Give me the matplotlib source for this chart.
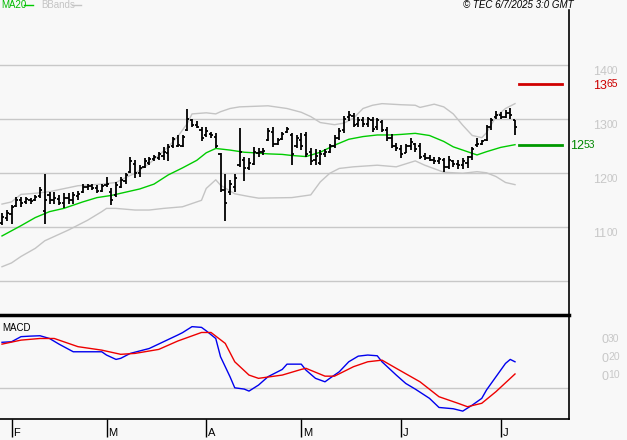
import numpy as np
import pandas as pd
import matplotlib
matplotlib.use('Agg')
import matplotlib.pyplot as plt

plt.rcParams['font.family'] = ['Liberation Sans', 'DejaVu Sans']

# trading days (Euronext holidays removed)
days = pd.bdate_range('2025-01-30', '2025-07-04')
days = days.drop(pd.to_datetime(['2025-04-18', '2025-04-21', '2025-05-01']))

highs = [1126, 1132, 1141, 1157, 1157, 1157, 1154, 1160, 1175, 1199,
         1166, 1166, 1160, 1163, 1163, 1166, 1167, 1181, 1181, 1181,
         1178, 1181, 1194, 1172, 1183, 1194, 1200, 1231, 1225, 1215,
         1228, 1231, 1234, 1239, 1249, 1255, 1268, 1270, 1270, 1319,
         1301, 1296, 1286, 1286, 1277, 1274, 1237, 1198, 1188, 1198,
         1283, 1231, 1228, 1249, 1246, 1246, 1283, 1286, 1266, 1276,
         1286, 1274, 1271, 1274, 1277, 1246, 1245, 1243, 1245, 1255,
         1271, 1283, 1307, 1315, 1311, 1305, 1305, 1305, 1305, 1302,
         1299, 1285, 1272, 1257, 1252, 1255, 1265, 1257, 1257, 1237,
         1233, 1231, 1231, 1228, 1232, 1225, 1225, 1228, 1232, 1249,
         1265, 1262, 1289, 1302, 1315, 1314, 1317, 1320, 1299]
lows = [1105, 1112, 1107, 1138, 1138, 1144, 1143, 1149, 1154, 1107,
        1144, 1144, 1141, 1135, 1144, 1144, 1151, 1163, 1169, 1169,
        1163, 1166, 1175, 1142, 1157, 1172, 1181, 1200, 1192, 1194,
        1209, 1215, 1222, 1225, 1225, 1222, 1246, 1249, 1249, 1278,
        1286, 1283, 1259, 1268, 1265, 1246, 1165, 1112, 1160, 1165,
        1212, 1185, 1206, 1215, 1231, 1234, 1259, 1249, 1252, 1262,
        1274, 1215, 1246, 1243, 1231, 1215, 1215, 1215, 1231, 1237,
        1246, 1262, 1274, 1296, 1286, 1285, 1285, 1285, 1276, 1280,
        1276, 1259, 1246, 1241, 1229, 1237, 1243, 1240, 1226, 1225,
        1222, 1218, 1218, 1202, 1208, 1212, 1208, 1208, 1209, 1225,
        1249, 1252, 1259, 1280, 1301, 1301, 1302, 1301, 1270]
opens = [1108, 1118, 1125, 1140, 1150, 1146, 1150, 1150, 1158, 1130,
         1160, 1150, 1152, 1145, 1155, 1150, 1158, 1165, 1174, 1176,
         1172, 1168, 1178, 1165, 1160, 1175, 1186, 1202, 1218, 1200,
         1212, 1220, 1226, 1228, 1232, 1238, 1250, 1250, 1250, 1280,
         1298, 1290, 1280, 1270, 1272, 1268, 1235, 1170, 1165, 1175,
         1215, 1225, 1210, 1218, 1238, 1240, 1262, 1276, 1255, 1264,
         1276, 1270, 1250, 1262, 1270, 1240, 1225, 1220, 1235, 1240,
         1250, 1265, 1280, 1305, 1306, 1292, 1298, 1292, 1298, 1285,
         1295, 1280, 1265, 1250, 1245, 1238, 1250, 1255, 1250, 1232,
         1228, 1225, 1222, 1225, 1212, 1222, 1218, 1215, 1220, 1230,
         1252, 1255, 1262, 1285, 1305, 1308, 1305, 1312, 1298]
closes = [1120, 1126, 1138, 1150, 1145, 1152, 1148, 1156, 1170, 1150,
          1150, 1155, 1145, 1155, 1150, 1160, 1162, 1175, 1176, 1172,
          1168, 1176, 1180, 1150, 1178, 1188, 1196, 1222, 1200, 1210,
          1222, 1226, 1230, 1235, 1240, 1248, 1264, 1252, 1268, 1300,
          1290, 1285, 1265, 1278, 1270, 1250, 1170, 1145, 1180, 1192,
          1240, 1210, 1220, 1240, 1240, 1242, 1278, 1255, 1262, 1272,
          1282, 1235, 1265, 1250, 1235, 1222, 1232, 1235, 1240, 1250,
          1265, 1278, 1300, 1308, 1290, 1298, 1292, 1300, 1282, 1298,
          1280, 1265, 1250, 1246, 1235, 1250, 1258, 1245, 1230, 1228,
          1225, 1222, 1226, 1212, 1225, 1218, 1215, 1222, 1230, 1245,
          1255, 1260, 1285, 1298, 1308, 1305, 1312, 1308, 1285]

# MA20 and Bollinger bands, read at sample bars
ma_idx = [0, 4, 7, 10, 13, 17, 20, 23, 26, 29, 32, 35, 38, 41, 43, 45, 48,
          51, 53, 56, 59, 61, 64, 67, 70, 73, 76, 79, 82, 84, 87, 90, 93,
          95, 98, 100, 102, 105, 108]
ma20 = [1084, 1103, 1118, 1129, 1135, 1147, 1155, 1159, 1165, 1171, 1180,
        1197, 1210, 1224, 1238, 1246, 1243, 1239, 1238, 1236, 1235, 1233,
        1231, 1239, 1252, 1263, 1268, 1271, 1271, 1272, 1274, 1270, 1259,
        1249, 1240, 1234, 1240, 1248, 1253]
up_idx = [0, 2, 4, 7, 10, 16, 21, 24, 26, 28, 31, 35, 37, 39, 40, 43, 45,
          46, 48, 50, 53, 56, 60, 63, 65, 67, 70, 72, 74, 76, 78, 80, 84,
          87, 88, 91, 93, 95, 97, 99, 101, 102, 104, 106, 108]
bb_up = [1143, 1147, 1161, 1163, 1166, 1177, 1180, 1183, 1192, 1200, 1218,
         1249, 1268, 1292, 1310, 1312, 1310, 1314, 1320, 1323, 1324, 1325,
         1320, 1313, 1305, 1294, 1290, 1293, 1302, 1320, 1326, 1329, 1327,
         1326, 1322, 1328, 1323, 1310, 1289, 1270, 1266, 1275, 1305, 1320,
         1329]
lo_idx = [0, 2, 4, 7, 9, 11, 14, 16, 18, 21, 22, 24, 28, 31, 34, 38, 42,
          43, 45, 46, 49, 52, 54, 61, 65, 67, 69, 71, 74, 79, 83, 87, 89,
          93, 97, 100, 102, 104, 106, 108]
bb_lo = [1027, 1034, 1046, 1061, 1075, 1083, 1095, 1104, 1113, 1129, 1135,
         1135, 1132, 1132, 1135, 1138, 1150, 1172, 1188, 1178, 1162, 1157,
         1154, 1155, 1160, 1184, 1200, 1209, 1212, 1215, 1212, 1223, 1215,
         1202, 1200, 1203, 1201, 1194, 1183, 1179]

target = 1365
last_ma = 1253

# MACD and signal, read at sample bars
macd_idx = [0, 2, 4, 6, 8, 10, 12, 15, 17, 21, 22, 24, 25, 27, 31, 34, 37,
            38, 40, 42, 43, 45, 46, 48, 49, 51, 52, 54, 56, 59, 60, 63, 64,
            66, 68, 69, 71, 73, 75, 77, 79, 80, 83, 85, 87, 90, 92, 95, 97,
            99, 101, 102, 104, 106, 107, 108]
macd = [0.253, 0.256, 0.284, 0.287, 0.289, 0.274, 0.243, 0.201, 0.201,
        0.201, 0.183, 0.159, 0.165, 0.192, 0.219, 0.256, 0.293, 0.306,
        0.339, 0.335, 0.316, 0.274, 0.174, 0.064, 0.003, -0.004, -0.015,
        0.018, 0.064, 0.104, 0.133, 0.133, 0.100, 0.055, 0.036, 0.055,
        0.091, 0.146, 0.177, 0.183, 0.179, 0.146, 0.073, 0.027, -0.004,
        -0.055, -0.105, -0.112, -0.125, -0.092, -0.055, -0.009, 0.064,
        0.137, 0.159, 0.146]
sig_idx = [0, 4, 8, 11, 14, 16, 21, 25, 28, 33, 37, 42, 44, 47, 49, 52, 54,
           59, 63, 64, 68, 70, 74, 77, 80, 83, 88, 92, 96, 98, 101, 104, 108]
signal = [0.243, 0.265, 0.274, 0.274, 0.247, 0.229, 0.210, 0.187, 0.192,
          0.214, 0.260, 0.307, 0.307, 0.247, 0.146, 0.073, 0.055, 0.073,
          0.104, 0.110, 0.067, 0.067, 0.119, 0.146, 0.155, 0.110, 0.036,
          -0.046, -0.082, -0.101, -0.082, -0.018, 0.079]

price_grid = [1000, 1100, 1200, 1300, 1400]
price_labels = ['1100', '1200', '1300', '1400']
macd_ticks = [0.10, 0.20, 0.30]
macd_labels = ['0.10', '0.20', '0.30']

W, H = 627, 440
BG = '#f8f8f8'
GRID = '#c8c8c8'


def box(l, t, r, b):
    return [l / W, 1 - b / H, (r - l) / W, (b - t) / H]


def split_label(axis, trans, xa, y, big, small, color, dy):
    # big leading digits, smaller raised trailing digits, as the reference draws them
    axis.annotate(big, xy=(xa, y), xycoords=trans, xytext=(0, dy),
                  textcoords='offset points', fontsize=9, color=color,
                  ha='left', va='baseline', annotation_clip=False)
    axis.annotate(small, xy=(xa, y), xycoords=trans, xytext=(len(big) * 5.0, dy + 1.0),
                  textcoords='offset points', fontsize=7.5, color=color,
                  ha='left', va='baseline', annotation_clip=False)


fig = plt.figure(figsize=(W / 100, H / 100), dpi=100, facecolor=BG)
ax = fig.add_axes(box(0, 10, 569, 315), facecolor=BG)
mx = fig.add_axes(box(0, 315, 569, 419.3), facecolor=BG, sharex=ax)

x = np.arange(len(days))
ax.set_xlim(-2 / 4.75, 567 / 4.75)
ax.set_ylim(937.6, 1502.4)

for lvl in price_grid:
    ax.axhline(lvl, color=GRID, lw=1, zorder=0)

ax.plot(lo_idx, bb_lo, color='#c4c4c4', lw=1)
ax.plot(up_idx, bb_up, color='#c4c4c4', lw=1)
ax.plot(ma_idx, ma20, color='#00cc00', lw=1)

ax.vlines(x, lows, highs, color='black', lw=1.3)
ax.hlines(opens, x - 0.45, x, color='black', lw=1.3)
ax.hlines(closes, x, x + 0.45, color='black', lw=1.3)

yt = ax.get_yaxis_transform()
ax.plot([519 / 569, 562 / 569], [target, target], color='#d00000', lw=2, transform=yt)
ax.plot([519 / 569, 562 / 569], [last_ma, last_ma], color='#009900', lw=2, transform=yt)

for lab in price_labels:
    split_label(ax, yt, 593 / 569, float(lab), lab[:2], lab[2:], GRID, -7.0)
split_label(ax, yt, 593 / 569, target, str(target)[:2], str(target)[2:], '#cc0000', -3.2)
split_label(ax, yt, 570 / 569, last_ma, str(last_ma)[:2], str(last_ma)[2:], '#008800', -3.2)

for s in ['left', 'top', 'bottom']:
    ax.spines[s].set_visible(False)
ax.spines['right'].set_color('black')
ax.spines['right'].set_linewidth(1.2)
ax.tick_params(left=False, right=False, bottom=False, labelleft=False,
               labelbottom=False)

# MACD panel
mx.set_ylim(-0.170, 0.403)
mx.axhline(0, color=GRID, lw=1, zorder=0)
mx.plot(macd_idx, macd, color='#0000ee', lw=1)
mx.plot(sig_idx, signal, color='#ee0000', lw=1)
mt = mx.get_yaxis_transform()
for v, lab in zip(macd_ticks, macd_labels):
    split_label(mx, mt, 601 / 569, v, lab[0], lab[2:], GRID, -7.0)
mx.text(2 / 569, 0.88, 'MACD', transform=mx.transAxes, fontsize=7,
        ha='left', va='center')

mx.spines['left'].set_visible(False)
mx.spines['top'].set_linewidth(2.5)
mx.spines['right'].set_linewidth(1.2)
mx.spines['bottom'].set_linewidth(1.2)
mx.tick_params(left=False, labelleft=False)

month_pos = [i for i in range(1, len(days)) if days[i].month != days[i - 1].month]
mx.set_xticks(month_pos)
mx.tick_params(axis='x', length=13, width=1, color='black', direction='out',
               labelbottom=False)
xt = mx.get_xaxis_transform()
for i in month_pos:
    mx.annotate(days[i].strftime('%b')[0], xy=(i, -0.13), xycoords=xt,
                xytext=(1.5, 0), textcoords='offset points', fontsize=8,
                ha='left', va='center', annotation_clip=False)

# header
fig.text(1 / W, 1 - 5 / H, 'MA20', color='#00bb00', fontsize=7, ha='left', va='center')
fig.lines.append(plt.Line2D([24 / W, 33 / W], [1 - 5 / H, 1 - 5 / H], color='#00cc00',
                            lw=1, transform=fig.transFigure))
fig.text(41 / W, 1 - 5 / H, 'BBands', color='#c4c4c4', fontsize=7, ha='left', va='center')
fig.lines.append(plt.Line2D([72 / W, 81 / W], [1 - 5 / H, 1 - 5 / H], color='#c4c4c4',
                            lw=1, transform=fig.transFigure))
fig.text(574 / W, 1 - 5 / H, '\u00a9 TEC 6/7/2025 3:0 GMT', fontsize=7, style='italic',
         ha='right', va='center')

fig.savefig('out.png', dpi=100, facecolor=BG)
